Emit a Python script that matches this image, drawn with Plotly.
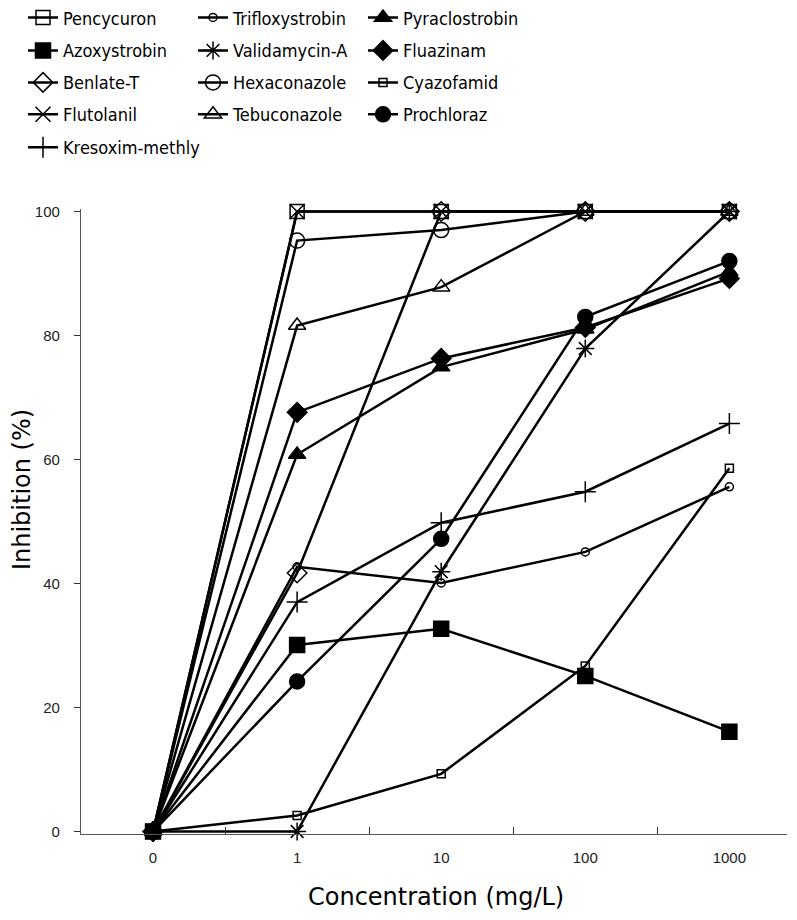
import plotly.graph_objects as go

categories = ["0", "1", "10", "100", "1000"]

pencycuron = [0, 100, 100, 100, 100]
trifloxystrobin = [0, 42.7, 40.1, 45.1, 55.6]
pyraclostrobin = [0, 60.8, 74.9, 81.0, 90.3]
azoxystrobin = [0, 30.1, 32.7, 25.1, 16.1]
validamycin_a = [0, 0, 41.9, 77.9, 100]
fluazinam = [0, 67.6, 76.3, 81.3, 89.2]
benlate_t = [0, 41.7, 100, 100, 100]
hexaconazole = [0, 95.3, 97.0, 100, 100]
cyazofamid = [0, 2.6, 9.3, 26.7, 58.6]
flutolanil = [0, 100, 100, 100, 100]
tebuconazole = [0, 81.6, 87.8, 100, 100]
prochloraz = [0, 24.2, 47.2, 83.0, 92.0]
kresoxim_methly = [0, 37.0, 49.8, 54.8, 65.8]

series = [
    ("Pencycuron", pencycuron, "square-open", 14, "legend"),
    ("Trifloxystrobin", trifloxystrobin, "circle-open", 8, "legend"),
    ("Pyraclostrobin", pyraclostrobin, "triangle-up", 15, "legend"),
    ("Azoxystrobin", azoxystrobin, "square", 15, "legend2"),
    ("Validamycin-A", validamycin_a, "asterisk-open", 15, "legend2"),
    ("Fluazinam", fluazinam, "diamond", 15, "legend2"),
    ("Benlate-T", benlate_t, "diamond-open", 15, "legend3"),
    ("Hexaconazole", hexaconazole, "circle-open", 15, "legend3"),
    ("Cyazofamid", cyazofamid, "square-open", 8, "legend3"),
    ("Flutolanil", flutolanil, "x-thin-open", 15, "legend4"),
    ("Tebuconazole", tebuconazole, "triangle-up-open", 15, "legend4"),
    ("Prochloraz", prochloraz, "circle", 15, "legend4"),
    ("Kresoxim-methly", kresoxim_methly, "cross-thin-open", 15, "legend5"),
]

fig = go.Figure()
for name, vals, sym, size, lg in series:
    fig.add_trace(go.Scatter(
        x=categories, y=vals, name=name, mode="lines+markers",
        line=dict(color="black", width=2.5),
        marker=dict(symbol=sym, size=size, color="black",
                    line=dict(color="black", width=1.5)),
        cliponaxis=False, legend=lg,
    ))

W, H = 797, 920
Y0, Y1 = -0.4, 100.4
px_per_unit = 621 / 100.0
L, R = 81, 10
T = 211 - (Y1 - 100) * px_per_unit
B = H - (832 + (0 - Y0) * px_per_unit)
plot_w = W - L - R
plot_h = H - T - B

def ypaper(py):
    return (H - B - py) / plot_h

def xpaper(px):
    return (px - L) / plot_w

legend_font = dict(family="DejaVu Sans Condensed, Liberation Sans, sans-serif",
                   size=18, color="black")
leg_x = xpaper(23)
row_y = [17, 50, 82, 114, 147]
legend_common = dict(orientation="h", x=leg_x, xanchor="left", yanchor="middle",
                     font=legend_font, entrywidth=125, entrywidthmode="pixels",
                     bgcolor="rgba(0,0,0,0)", borderwidth=0, itemclick=False)

layout_legends = {}
for i, py in enumerate(row_y):
    key = "legend" if i == 0 else f"legend{i+1}"
    layout_legends[key] = dict(legend_common, y=ypaper(py))
layout_legends["legend5"]["entrywidth"] = 250

title_font = dict(family="DejaVu Sans, sans-serif", size=24, color="black")

fig.update_layout(
    width=W, height=H,
    margin=dict(l=L, r=R, t=T, b=B, autoexpand=False),
    plot_bgcolor="white", paper_bgcolor="white",
    font=dict(family="Liberation Sans, Arial, sans-serif", color="#222"),
    showlegend=True,
    annotations=[
        dict(text="Concentration (mg/L)", xref="paper", yref="paper",
             x=xpaper(436), y=ypaper(898), xanchor="center", yanchor="middle",
             showarrow=False, font=title_font),
        dict(text="Inhibition (%)", xref="paper", yref="paper",
             x=xpaper(22), y=ypaper(490), xanchor="center", yanchor="middle",
             textangle=-90, showarrow=False, font=title_font),
    ],
    **layout_legends,
)

fig.update_xaxes(
    type="category", range=[-0.5, 4.4],
    showline=True, linecolor="#555", linewidth=1.2,
    ticks="inside", tickson="boundaries", ticklen=7, tickcolor="#333", tickwidth=1,
    showgrid=False, zeroline=False,
    tickfont=dict(family="Liberation Sans, Arial, sans-serif", size=15, color="#222"),
    ticklabelstandoff=10,
)
fig.update_yaxes(
    range=[Y0, Y1], tickvals=[0, 20, 40, 60, 80, 100],
    showline=True, linecolor="#555", linewidth=1.2,
    ticks="outside", ticklen=6, tickcolor="#333", tickwidth=1,
    showgrid=False, zeroline=False,
    tickfont=dict(family="Liberation Sans, Arial, sans-serif", size=15, color="#222"),
    ticklabelstandoff=11,
)

fig.write_html("out.html")
